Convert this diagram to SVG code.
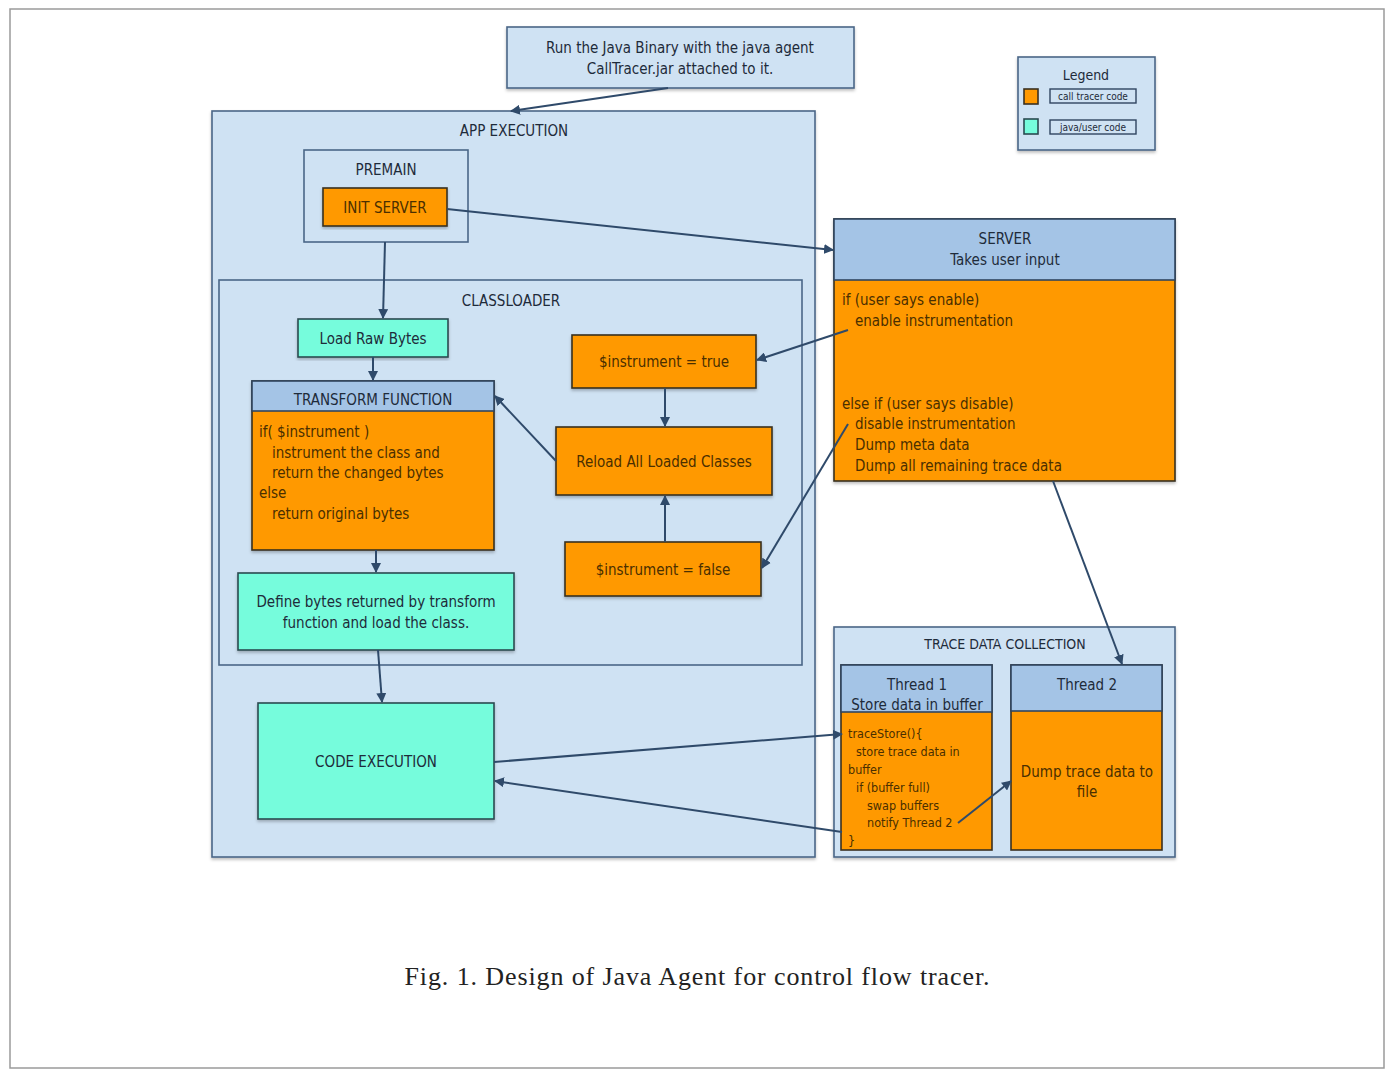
<svg xmlns="http://www.w3.org/2000/svg" width="1387" height="1070" viewBox="0 0 1387 1070">
<style>
text{font-family:"DejaVu Sans Condensed","Liberation Sans",sans-serif;fill:#1e2b3a}
.c{text-anchor:middle}
.blue{fill:#cfe2f3;stroke:#4a6787;stroke-width:1.6}
.hdr{fill:#a4c4e6;stroke:#2f4560;stroke-width:1.6}
.org{fill:#ff9900;stroke:#3a3020;stroke-width:1.6}
.teal{fill:#76fcdc;stroke:#2a4a50;stroke-width:1.6}
.ot{fill:#4a2f00}
.t16{font-size:15px}
.t13{font-size:12.5px}
.edge{fill:none;stroke:#2f4a6a;stroke-width:2}
</style>
<defs>
<marker id="ah" viewBox="0 0 10 10" refX="9" refY="5" markerWidth="5" markerHeight="5" orient="auto">
<path d="M0,0 L10,5 L0,10 z" fill="#2f4a6a"/>
</marker>
<filter id="sh" x="-5%" y="-5%" width="110%" height="115%">
<feDropShadow dx="0" dy="2" stdDeviation="1.5" flood-color="#000" flood-opacity="0.25"/>
</filter>
</defs>
<rect x="0" y="0" width="1387" height="1070" fill="#ffffff"/>
<rect x="10" y="9" width="1374" height="1059" fill="none" stroke="#9a9a9a" stroke-width="1.5"/>

<g id="start">
<rect class="blue" x="507" y="27" width="347" height="61" filter="url(#sh)"/>
<text class="c t16" x="680" y="53">Run the Java Binary with the java agent</text>
<text class="c t16" x="680" y="74">CallTracer.jar attached to it.</text>
</g>

<g id="legend">
<rect class="blue" x="1018" y="57" width="137" height="93" filter="url(#sh)"/>
<text class="c" font-size="14" x="1086" y="80">Legend</text>
<rect class="org" x="1024" y="89" width="14" height="15"/>
<rect x="1050" y="89" width="86" height="14" fill="#cfe2f3" stroke="#2f4560" stroke-width="1.4"/>
<text class="c" font-size="10" x="1093" y="100">call tracer code</text>
<rect class="teal" x="1024" y="119" width="14" height="15"/>
<rect x="1050" y="120" width="86" height="14" fill="#cfe2f3" stroke="#2f4560" stroke-width="1.4"/>
<text class="c" font-size="10" x="1093" y="131">java/user code</text>
</g>

<g id="app-execution">
<rect class="blue" x="212" y="111" width="603" height="746" filter="url(#sh)"/>
<text class="c t16" x="514" y="136">APP EXECUTION</text>
</g>

<g id="premain">
<rect class="blue" x="304" y="150" width="164" height="92"/>
<text class="c t16" x="386" y="175">PREMAIN</text>
</g>

<g id="init-server">
<rect class="org" x="323" y="188" width="124" height="38" filter="url(#sh)"/>
<text class="c t16 ot" x="385" y="213">INIT SERVER</text>
</g>

<g id="classloader">
<rect class="blue" x="219" y="280" width="583" height="385"/>
<text class="c t16" x="511" y="306">CLASSLOADER</text>
</g>

<g id="load-raw-bytes">
<rect class="teal" x="298" y="319" width="150" height="38" filter="url(#sh)"/>
<text class="c t16" x="373" y="344">Load Raw Bytes</text>
</g>

<g id="transform-function">
<rect class="org" x="252" y="381" width="242" height="169" filter="url(#sh)"/>
<rect class="hdr" x="252" y="381" width="242" height="30"/>
<text class="c t16" x="373" y="405">TRANSFORM FUNCTION</text>
<text class="t16 ot" x="259" y="437">if( $instrument )</text>
<text class="t16 ot" x="272" y="458">instrument the class and</text>
<text class="t16 ot" x="272" y="478">return the changed bytes</text>
<text class="t16 ot" x="259" y="498">else</text>
<text class="t16 ot" x="272" y="519">return original bytes</text>
</g>

<g id="define-bytes">
<rect class="teal" x="238" y="573" width="276" height="77" filter="url(#sh)"/>
<text class="c t16" x="376" y="607">Define bytes returned by transform</text>
<text class="c t16" x="376" y="628">function and load the class.</text>
</g>

<g id="code-execution">
<rect class="teal" x="258" y="703" width="236" height="116" filter="url(#sh)"/>
<text class="c t16" x="376" y="767">CODE EXECUTION</text>
</g>

<g id="instrument-true">
<rect class="org" x="572" y="335" width="184" height="53" filter="url(#sh)"/>
<text class="c t16 ot" x="664" y="367">$instrument = true</text>
</g>

<g id="reload-classes">
<rect class="org" x="556" y="427" width="216" height="68" filter="url(#sh)"/>
<text class="c t16 ot" x="664" y="467">Reload All Loaded Classes</text>
</g>

<g id="instrument-false">
<rect class="org" x="565" y="542" width="196" height="54" filter="url(#sh)"/>
<text class="c t16 ot" x="663" y="575">$instrument = false</text>
</g>

<g id="server">
<rect class="org" x="834" y="219" width="341" height="262" filter="url(#sh)"/>
<rect class="hdr" x="834" y="219" width="341" height="61"/>
<text class="c t16" x="1005" y="244">SERVER</text>
<text class="c t16" x="1005" y="265">Takes user input</text>
<text class="t16 ot" x="842" y="305">if (user says enable)</text>
<text class="t16 ot" x="855" y="326">enable instrumentation</text>
<text class="t16 ot" x="842" y="409">else if (user says disable)</text>
<text class="t16 ot" x="855" y="429">disable instrumentation</text>
<text class="t16 ot" x="855" y="450">Dump meta data</text>
<text class="t16 ot" x="855" y="471">Dump all remaining trace data</text>
</g>

<g id="trace-data-collection">
<rect class="blue" x="834" y="627" width="341" height="230" filter="url(#sh)"/>
<text class="c" font-size="14" x="1005" y="649">TRACE DATA COLLECTION</text>
</g>

<g id="thread-1">
<rect class="org" x="841" y="665" width="151" height="185"/>
<rect class="hdr" x="841" y="665" width="151" height="47"/>
<text class="c t16" x="917" y="690">Thread 1</text>
<text class="c t16" x="917" y="710">Store data in buffer</text>
<text class="t13 ot" x="848" y="738">traceStore(){</text>
<text class="t13 ot" x="856" y="756">store trace data in</text>
<text class="t13 ot" x="848" y="774">buffer</text>
<text class="t13 ot" x="856" y="792">if (buffer full)</text>
<text class="t13 ot" x="867" y="810">swap buffers</text>
<text class="t13 ot" x="867" y="827">notify Thread 2</text>
<text class="t13 ot" x="848" y="845">}</text>
</g>

<g id="thread-2">
<rect class="org" x="1011" y="665" width="151" height="185"/>
<rect class="hdr" x="1011" y="665" width="151" height="46"/>
<text class="c t16" x="1087" y="690">Thread 2</text>
<text class="c t16 ot" x="1087" y="777">Dump trace data to</text>
<text class="c t16 ot" x="1087" y="797">file</text>
</g>

<g id="connectors">
<line class="edge" x1="668" y1="88" x2="511" y2="111" marker-end="url(#ah)"/>
<line class="edge" x1="447" y1="209" x2="833" y2="250" marker-end="url(#ah)"/>
<line class="edge" x1="385" y1="242" x2="383" y2="318" marker-end="url(#ah)"/>
<line class="edge" x1="373" y1="357" x2="373" y2="380" marker-end="url(#ah)"/>
<line class="edge" x1="376" y1="550" x2="376" y2="572" marker-end="url(#ah)"/>
<line class="edge" x1="378" y1="650" x2="382" y2="702" marker-end="url(#ah)"/>
<line class="edge" x1="665" y1="388" x2="665" y2="426" marker-end="url(#ah)"/>
<line class="edge" x1="665" y1="542" x2="665" y2="496" marker-end="url(#ah)"/>
<line class="edge" x1="556" y1="461" x2="495" y2="396" marker-end="url(#ah)"/>
<line class="edge" x1="848" y1="330" x2="757" y2="360" marker-end="url(#ah)"/>
<line class="edge" x1="848" y1="424" x2="762" y2="568" marker-end="url(#ah)"/>
<line class="edge" x1="1053" y1="481" x2="1122" y2="664" marker-end="url(#ah)"/>
<line class="edge" x1="494" y1="762" x2="842" y2="734" marker-end="url(#ah)"/>
<line class="edge" x1="842" y1="832" x2="495" y2="781" marker-end="url(#ah)"/>
<line class="edge" x1="958" y1="823" x2="1011" y2="781" marker-end="url(#ah)"/>
</g>

<text class="c" x="697" y="985" font-size="26" textLength="585" lengthAdjust="spacing" style="font-family:'Liberation Serif','DejaVu Serif',serif;fill:#222">Fig. 1. Design of Java Agent for control flow tracer.</text>
</svg>
